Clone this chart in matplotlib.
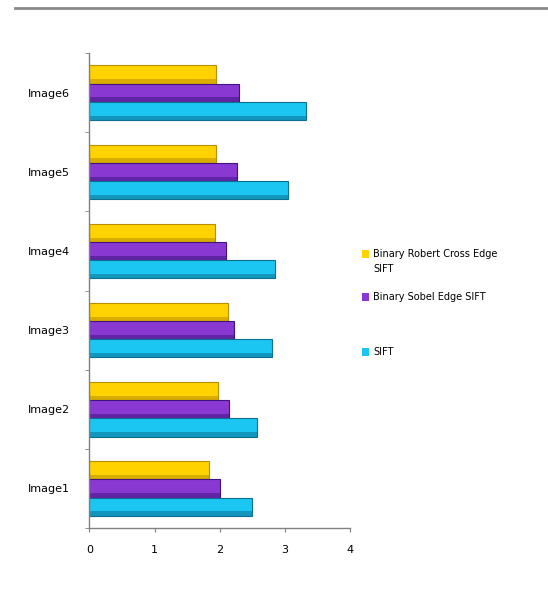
import numpy as np
import matplotlib.pyplot as plt
from matplotlib.lines import Line2D
from matplotlib.patches import Rectangle

categories = ["Image1", "Image2", "Image3", "Image4", "Image5", "Image6"]
sift = [2.50, 2.57, 2.80, 2.84, 3.04, 3.33]
sobel_sift = [2.00, 2.14, 2.22, 2.10, 2.26, 2.29]
roberts_sift = [1.84, 1.98, 2.12, 1.92, 1.95, 1.94]

series = [
    ("Binary Robert Cross Edge\nSIFT", roberts_sift, "#FFD200", "#B88F00"),
    ("Binary Sobel Edge SIFT", sobel_sift, "#8A38D2", "#3E1480"),
    ("SIFT", sift, "#1CC6F2", "#0B6F92"),
]

W, H = 548, 595
fig = plt.figure(figsize=(W / 100, H / 100), dpi=100)
ax = fig.add_axes([0.163, 0.1126, 0.476, 0.798])

y = np.arange(len(categories))
h = 0.23
offsets = [h, 0.0, -h]
for (label, vals, color, edge), off in zip(series, offsets):
    ax.barh(y + off, vals, height=h, color=color, edgecolor=edge, linewidth=0.8)
    # darker strip along the lower side of each bar
    ax.barh(y + off - h * 0.38, vals, height=h * 0.24, color=edge, alpha=0.55, linewidth=0)

ax.set_xlim(0, 4)
ax.set_ylim(-0.5, len(categories) - 0.5)
ax.set_xticks([0, 1, 2, 3, 4])
ax.set_yticks(y)
ax.set_yticklabels(categories)
ax.set_yticks(np.arange(-0.5, len(categories), 1.0), minor=True)
ax.tick_params(axis="y", which="major", length=0, pad=14, labelsize=8)
ax.tick_params(axis="y", which="minor", length=3, color="#808080")
ax.tick_params(axis="x", length=3, color="#808080", pad=9, labelsize=8)
for side in ("top", "right"):
    ax.spines[side].set_visible(False)
for side in ("left", "bottom"):
    ax.spines[side].set_color("#808080")
    ax.spines[side].set_linewidth(1.0)

# legend rows (pixel rows from the top of the figure)
legend_rows = [254, 297, 352]
for (label, _, color, _), row in zip(series, legend_rows):
    fy = 1 - row / H
    fig.add_artist(Rectangle((362 / W, fy - 4 / H), 7 / W, 8 / H,
                             transform=fig.transFigure, facecolor=color, edgecolor="none"))
    fig.text(373 / W, fy + 5 / H, label, fontsize=7, va="top", ha="left",
             linespacing=1.6)

# rule across the top of the page
fig.add_artist(Line2D([0.027, 1.0], [0.986, 0.986], color="#8a8a8a", linewidth=2))

fig.savefig("out.png", dpi=100, facecolor="white")
